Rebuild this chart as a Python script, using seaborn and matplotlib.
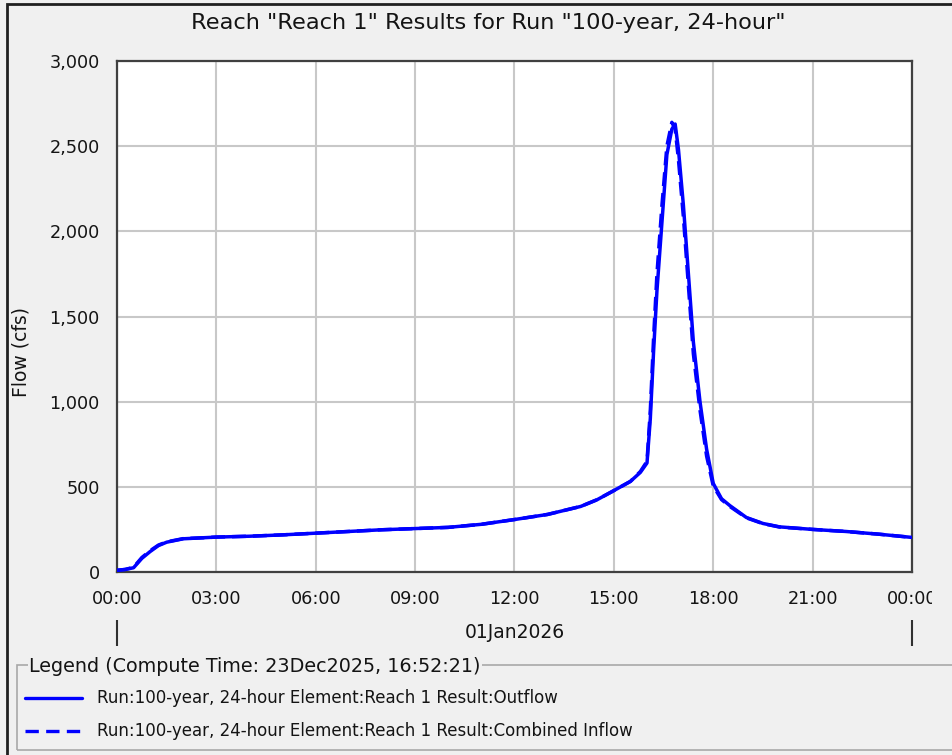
import matplotlib
matplotlib.use("Agg")
import matplotlib.pyplot as plt
import seaborn as sns
import pandas as pd
from matplotlib.lines import Line2D
from matplotlib.patches import Rectangle
from matplotlib.transforms import Bbox, TransformedBbox

# ---------------- data ----------------
title = 'Reach "Reach 1" Results for Run "100-year, 24-hour"'
y_label = "Flow (cfs)"
date_label = "01Jan2026"
legend_title = "Legend (Compute Time: 23Dec2025, 16:52:21)"
series_names = [
    "Run:100-year, 24-hour Element:Reach 1 Result:Outflow",
    "Run:100-year, 24-hour Element:Reach 1 Result:Combined Inflow",
]
x_ticks = [0, 3, 6, 9, 12, 15, 18, 21, 24]
x_tick_labels = ["00:00", "03:00", "06:00", "09:00", "12:00", "15:00", "18:00", "21:00", "00:00"]
y_ticks = [0, 500, 1000, 1500, 2000, 2500, 3000]
y_tick_labels = ["0", "500", "1,000", "1,500", "2,000", "2,500", "3,000"]

hours = [0, 0.25, 0.5, 0.75, 1.0, 1.25, 1.5, 2.0, 2.5, 3, 4, 5, 6, 7, 8, 9, 10, 11, 12, 13,
         14, 14.5, 15, 15.5, 15.8, 16.0, 16.1, 16.2, 16.3, 16.45, 16.6, 16.75, 16.85, 16.95,
         17.1, 17.25, 17.4, 17.6, 17.8, 18.0, 18.25, 18.5, 19, 19.5, 20, 21, 22, 23, 24]
outflow = [10, 15, 25, 80, 120, 155, 175, 195, 200, 205, 210, 218, 228, 238, 248, 255, 262, 280, 308, 338,
           385, 425, 478, 532, 585, 640, 900, 1300, 1650, 2050, 2450, 2600, 2630, 2480,
           2150, 1750, 1350, 1000, 720, 520, 430, 390, 320, 285, 265, 250, 238, 222, 203]
inflow = [10, 15, 28, 85, 125, 158, 177, 196, 200, 205, 210, 218, 228, 238, 248, 255, 262, 280, 308, 338,
          385, 425, 478, 532, 590, 650, 950, 1380, 1750, 2150, 2500, 2640, 2600, 2420,
          2080, 1680, 1280, 950, 680, 505, 425, 385, 318, 284, 264, 250, 238, 222, 203]

df = pd.DataFrame({
    "hour": hours * 2,
    "flow": outflow + inflow,
    "series": [series_names[0]] * len(hours) + [series_names[1]] * len(hours),
})

# ---------------- style ----------------
sns.set_style("white")
plt.rcParams["font.family"] = ["DejaVu Sans"]
BG = "#f0f0f0"
BLUE = "#0000ff"
TXT = "#141414"

W, H = 953, 755
fig = plt.figure(figsize=(W / 100, H / 100), dpi=100, facecolor=BG)

def fx(px):
    return px / W

def fy(py):
    return 1 - py / H

ax = fig.add_axes([fx(117), fy(572), fx(912) - fx(117), fy(61) - fy(572)])
ax.set_facecolor("white")

sns.lineplot(data=df[df.series == series_names[0]], x="hour", y="flow", ax=ax,
             color=BLUE, lw=2.5, legend=False, zorder=3)
sns.lineplot(data=df[df.series == series_names[1]], x="hour", y="flow", ax=ax,
             color=BLUE, lw=2.5, linestyle="--", legend=False, zorder=4)
ax.lines[1].set_dashes((4, 2))

ax.set_xlim(0, 24)
ax.set_ylim(0, 3000)
ax.set_xticks(x_ticks)
ax.set_xticklabels(x_tick_labels)
ax.set_yticks(y_ticks)
ax.set_yticklabels(y_tick_labels)
ax.set_xlabel("")
ax.set_ylabel("")
ax.grid(True, color="#c8c8c8", lw=1.5)
ax.set_axisbelow(True)
for s in ax.spines.values():
    s.set_color("#404040")
    s.set_linewidth(1.6)
ax.tick_params(axis="both", direction="out", width=1.2, color="#303030",
               labelsize=12.7, labelcolor=TXT)
ax.tick_params(axis="y", length=7.5, pad=5)
ax.tick_params(axis="x", length=8, pad=5)

# clip last x label like the reference panel edge
fig.canvas.draw()
last = ax.get_xticklabels()[-1]
last.set_clip_box(TransformedBbox(Bbox([[0, 0], [fx(932), 1]]), fig.transFigure))
last.set_clip_on(True)

# y label
fig.text(fx(21), fy(352), y_label, rotation=90, ha="center", va="center",
         fontsize=13.5, color=TXT)

# title
fig.text(fx(488), fy(23), title, ha="center", va="center", fontsize=16.2, color=TXT)

# date label with bracket marks
ax.text(0.5, -0.118, date_label, transform=ax.transAxes, ha="center", va="center",
        fontsize=13.5, color=TXT)
ax.vlines([0, 24], -0.145, -0.094, transform=ax.get_xaxis_transform(), colors="#303030",
          lw=1.5, clip_on=False)

# outer frame
fig.add_artist(Rectangle((fx(7), fy(770)), 1.2, fy(4) - fy(770), transform=fig.transFigure,
                         fill=False, edgecolor="#202020", lw=2))

# legend box
fig.add_artist(Rectangle((fx(17), fy(750)), fx(960) - fx(17), fy(665) - fy(750),
                         transform=fig.transFigure, fill=False, edgecolor="#a8a8a8", lw=1.2))
fig.text(fx(29), fy(667), legend_title, ha="left", va="center", fontsize=13.8, color=TXT,
         bbox=dict(facecolor=BG, edgecolor="none", pad=1))
styles = ["-", "--"]
ys = [698, 731]
for name, st, yy in zip(series_names, styles, ys):
    ln = Line2D([fx(25), fx(82)], [fy(yy), fy(yy)], transform=fig.transFigure,
                color=BLUE, lw=2.4, linestyle=st)
    if st == "--":
        ln.set_dashes((4, 2.2))
    fig.add_artist(ln)
    fig.text(fx(97), fy(yy), name, ha="left", va="center", fontsize=12, color=TXT)

fig.savefig("out.png", dpi=100, facecolor=BG)
